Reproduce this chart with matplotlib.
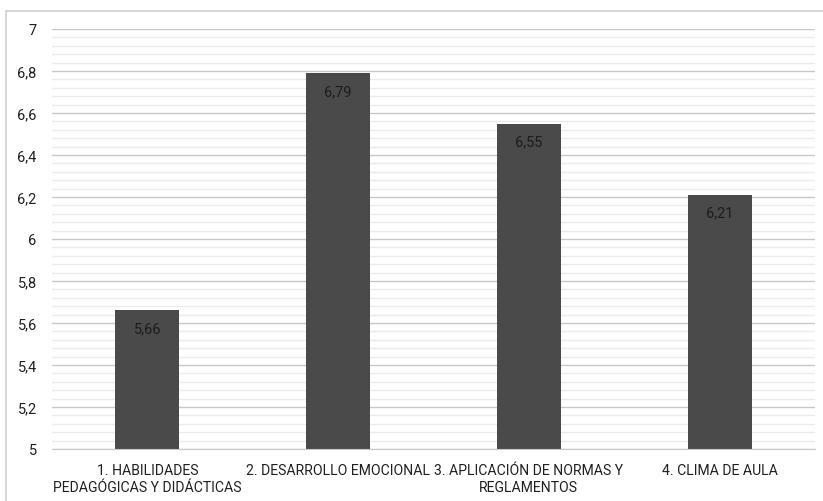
import matplotlib.pyplot as plt
from matplotlib.patches import Rectangle
from matplotlib.ticker import MultipleLocator

categories = ['1. HABILIDADES\nPEDAGÓGICAS Y DIDÁCTICAS',
              '2. DESARROLLO EMOCIONAL',
              '3. APLICACIÓN DE NORMAS Y\nREGLAMENTOS',
              '4. CLIMA DE AULA']
values = [5.66, 6.79, 6.55, 6.21]
value_labels = ['5,66', '6,79', '6,55', '6,21']
ytick_values = [5, 5.2, 5.4, 5.6, 5.8, 6, 6.2, 6.4, 6.6, 6.8, 7]
ytick_labels = ['5', '5,2', '5,4', '5,6', '5,8', '6', '6,2', '6,4', '6,6', '6,8', '7']

plt.rcParams['font.family'] = ['Roboto', 'DejaVu Sans']

W, H = 823, 502
fig = plt.figure(figsize=(W / 100, H / 100), dpi=100)
ax = fig.add_axes([52 / W, 1 - 450 / H, (815 - 52) / W, (450 - 30) / H])

# outer chart border
fig.patches.append(Rectangle((6 / W, -0.05), 1.1, 1 - 12 / H + 0.05,
                             transform=fig.transFigure, fill=False,
                             edgecolor='#d0d0d0', linewidth=1.2))

x = range(len(categories))
ax.bar(x, values, width=0.336, color='#4a4a4a', zorder=3)
ax.set_xlim(-0.5, len(categories) - 0.5)
ax.set_ylim(5, 7)

for xi, v, lab in zip(x, values, value_labels):
    ax.text(xi, v - 0.085, lab, ha='center', va='center', fontsize=10.5,
            color='#1c1c1c', zorder=4)

ax.set_yticks(ytick_values)
ax.set_yticklabels(ytick_labels)
ax.yaxis.set_minor_locator(MultipleLocator(0.04))
ax.grid(axis='y', which='major', color='#c8c8c8', linewidth=1.0, zorder=0)
ax.grid(axis='y', which='minor', color='#ebebeb', linewidth=1.0, zorder=0)

ax.set_xticks(list(x))
ax.set_xticklabels(categories, fontsize=10.1, color='#1f1f1f', linespacing=1.25)
ax.tick_params(axis='y', labelsize=10.5, labelcolor='#1f1f1f', length=0, pad=11)
ax.tick_params(axis='x', length=0, pad=10)
ax.tick_params(axis='y', which='minor', length=0)

for s in ['top', 'right', 'left']:
    ax.spines[s].set_visible(False)
ax.spines['bottom'].set_color('#c8c8c8')
ax.spines['bottom'].set_zorder(3.5)

fig.savefig('out.png', dpi=100)
